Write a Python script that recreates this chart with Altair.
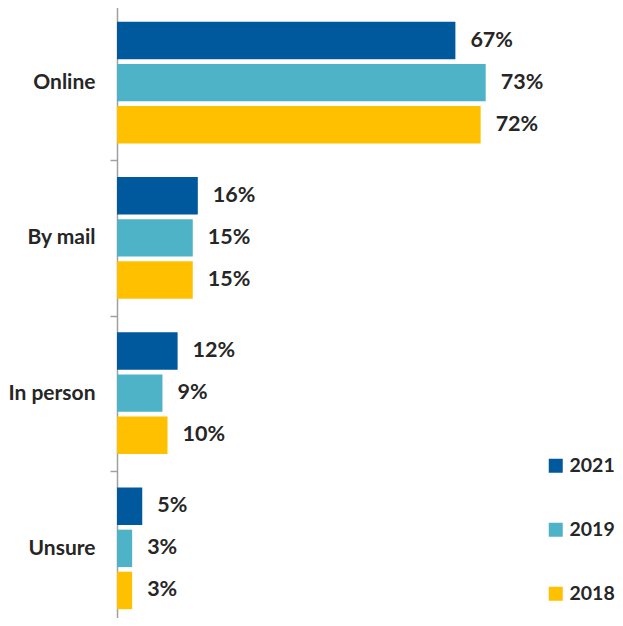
import altair as alt
import pandas as pd

categories = ["Online", "By mail", "In person", "Unsure"]
years = ["2021", "2019", "2018"]
values_2021 = [67, 16, 12, 5]
values_2019 = [73, 15, 9, 3]
values_2018 = [72, 15, 10, 3]
colors = ["#00599D", "#4FB3C8", "#FFC000"]

rows = []
for yr, vals in zip(years, [values_2021, values_2019, values_2018]):
    for cat, v in zip(categories, vals):
        rows.append({"Category": cat, "Year": yr, "Value": v, "Label": f"{v}%"})
df = pd.DataFrame(rows)

FONT = "Lato"
TXT = "#262626"

base = alt.Chart(df).encode(
    y=alt.Y(
        "Category:N",
        sort=categories,
        scale=alt.Scale(paddingInner=0, paddingOuter=0, range=[-3, 618]),
        axis=alt.Axis(
            title=None,
            tickBand="extent",
            domainColor="#A0A0A0",
            domainWidth=1.5,
            tickColor="#A0A0A0",
            tickWidth=1.5,
            tickSize=7,
            labelPadding=15,
            labelFont=FONT,
            labelFontSize=21,
            labelFontWeight="bold",
            labelColor=TXT,
        ),
    ),
    yOffset=alt.YOffset(
        "Year:N", sort=years, scale=alt.Scale(paddingInner=0.11, paddingOuter=0.4)
    ),
    x=alt.X("Value:Q", scale=alt.Scale(domain=[0, 98.6], nice=False), axis=None),
)

bars = base.mark_bar().encode(
    color=alt.Color(
        "Year:N",
        sort=years,
        scale=alt.Scale(domain=years, range=colors),
        legend=alt.Legend(
            title=None,
            orient="none",
            legendX=429,
            legendY=448,
            symbolType="square",
            symbolSize=196,
            symbolStrokeWidth=0,
            symbolOpacity=1,
            rowPadding=43,
            labelFont=FONT,
            labelFontSize=19.5,
            labelFontWeight="bold",
            labelColor=TXT,
            labelOffset=4,
        ),
    )
)

labels = base.mark_text(
    align="left", baseline="middle", dx=15, font=FONT, fontSize=21.5,
    fontWeight="bold", color=TXT,
).encode(text="Label:N")

chart = (
    alt.layer(bars, labels)
    .properties(
        width=498,
        height=610,
        autosize=alt.AutoSizeParams(type="none"),
        padding={"left": 109, "top": 0, "right": 0, "bottom": 0},
    )
    .configure_view(stroke=None)
)

chart.save("out.html", embed_options={"renderer": "svg", "actions": False})
